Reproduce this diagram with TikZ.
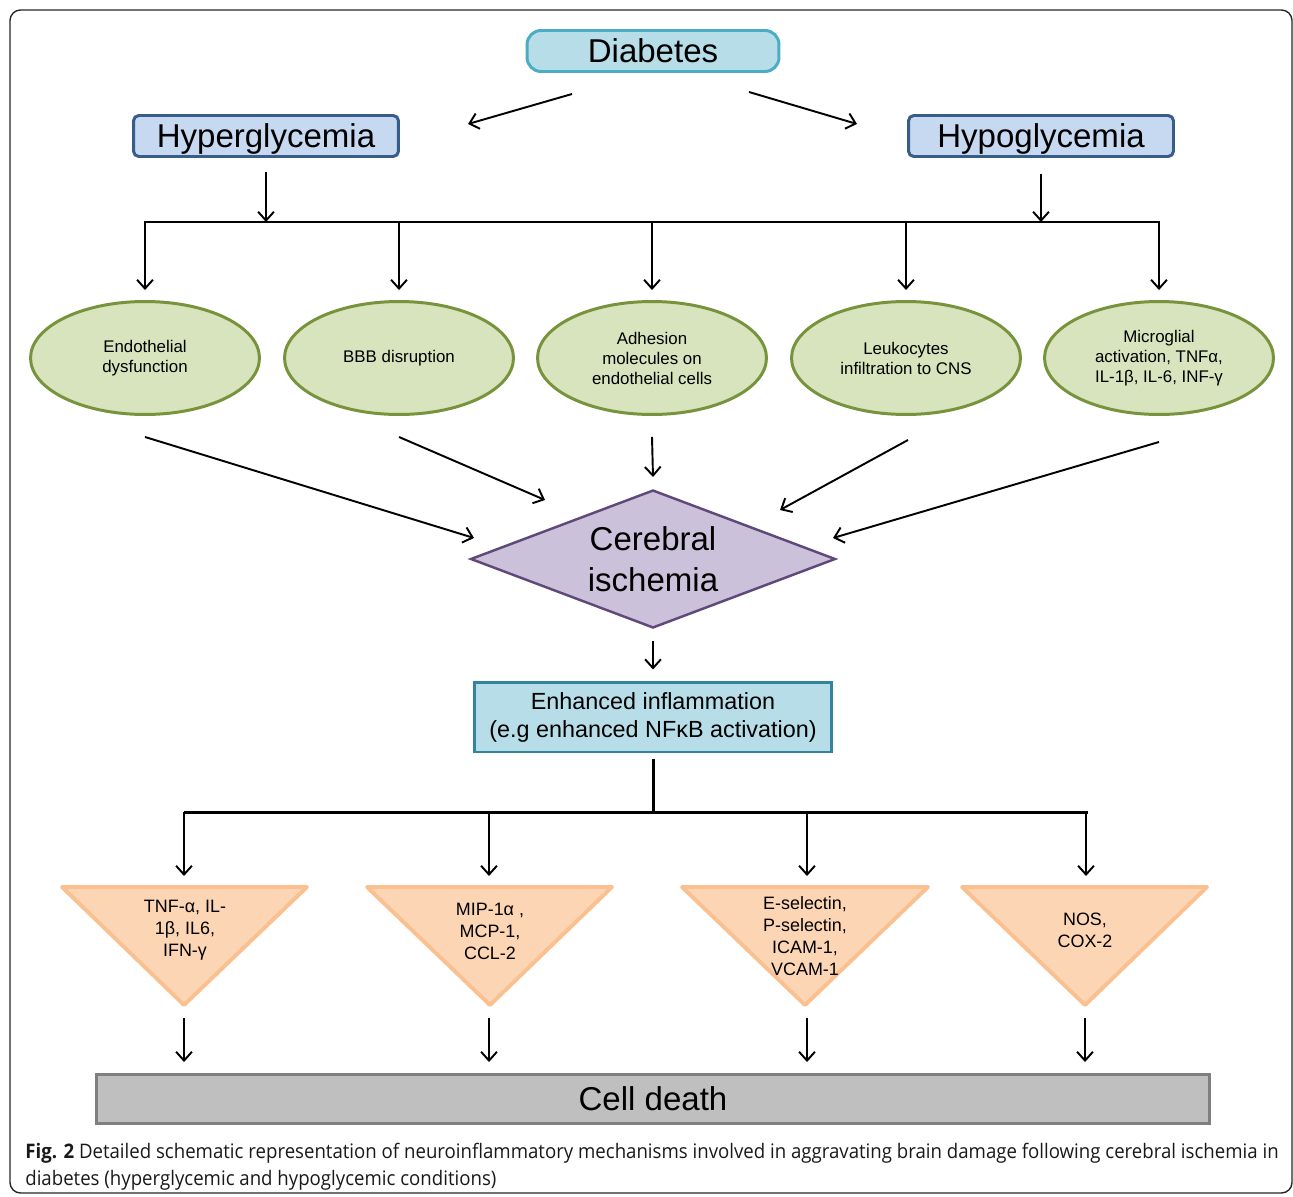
\documentclass[tikz,border=0pt]{standalone}
\usepackage{fontspec}
\setmainfont{Liberation Sans}
\newfontfamily\capfont[FakeStretch=0.93]{Open Sans}
\usetikzlibrary{shapes.geometric,arrows.meta}
\definecolor{diafill}{HTML}{B7DEE8}
\definecolor{diadraw}{HTML}{4BACC6}
\definecolor{glyfill}{HTML}{C6D9F1}
\definecolor{glydraw}{HTML}{385D8A}
\definecolor{ellfill}{HTML}{D7E4BD}
\definecolor{elldraw}{HTML}{77933C}
\definecolor{isfill}{HTML}{CCC1DA}
\definecolor{isdraw}{HTML}{5F497A}
\definecolor{infdraw}{HTML}{31859C}
\definecolor{trifill}{HTML}{FCD5B5}
\definecolor{tridraw}{HTML}{FAC090}
\definecolor{deathfill}{HTML}{BFBFBF}
\definecolor{deathdraw}{HTML}{7F7F7F}

\begin{document}
\begin{tikzpicture}[x=0.02cm, y=-0.02cm,
    >={Straight Barb[length=5pt,width=9pt]},
    link/.style={line width=1.1pt, ->},
    bar/.style={line width=1.7pt},
    big/.style={font=\fontsize{18.8}{23.3}\selectfont},
    capline/.style={big, text height=13.5pt, text depth=0pt},
    diabox/.style={capline, draw=diadraw, fill=diafill, line width=1.7pt, rounded corners=8pt,
      minimum width=5.04cm, minimum height=0.82cm, inner sep=0pt},
    glybox/.style={capline, draw=glydraw, fill=glyfill, line width=1.7pt, rounded corners=3pt,
      minimum width=5.3cm, minimum height=0.82cm, inner sep=0pt},
    cause/.style={ellipse, draw=elldraw, fill=ellfill, line width=1.7pt, align=center,
      minimum width=4.58cm, minimum height=2.26cm, inner sep=0pt,
      font=\fontsize{9.6}{11.4}\selectfont},
    tritext/.style={align=center, inner sep=0pt, font=\fontsize{10.2}{12.5}\selectfont},
    tri/.style={draw=tridraw, fill=trifill, line width=2.2pt, line join=round}]
  \useasboundingbox (0,0) rectangle (1293,1196);
  \draw[rounded corners=6pt, line width=0.8pt, draw=black!85] (10,10) rectangle (1292,1193);

  % top
  \node[diabox] (dia) at (653,51) {Diabetes};
  \node[glybox] (hyper) at (266,136) {Hyperglycemia};
  \node[glybox] (hypo) at (1041,136) {Hypoglycemia};
  \coordinate (dl) at (572,94);
  \coordinate (dle) at (468,124);
  \coordinate (dr) at (749,92);
  \coordinate (dre) at (857,124);
  \draw[link] (dl) -- (dle);
  \draw[link] (dr) -- (dre);

  % causes
  \coordinate (tbar) at (653,222);
  \draw[link] ([yshift=-0.28cm]hyper.south) -- (hyper.south |- tbar);
  \draw[link] ([yshift=-0.32cm]hypo.south) -- (hypo.south |- tbar);
  \draw[bar] (144,222) -- (1160,222);
  \node[cause] (e1) at (145,358) {Endothelial\\dysfunction};
  \node[cause] (e2) at (399,358) {BBB disruption};
  \node[cause] (e3) at (652,358) {Adhesion\\molecules on\\endothelial cells};
  \node[cause] (e4) at (906,358) {Leukocytes\\infiltration to CNS};
  \node[cause] (e5) at (1159,358) {Microglial\\activation, TNFα,\\IL-1β, IL-6, INF-γ};
  \foreach \i in {1,...,5}
    \draw[link] (e\i.north |- tbar) -- ([yshift=0.2cm]e\i.north);

  % ischemia
  \node[diamond, aspect=2.63, big, align=center, draw=isdraw, fill=isfill, line width=1.4pt,
    minimum width=7.3cm, minimum height=2.76cm, inner sep=0pt] (isch) at (653,559)
    {Cerebral\\ischemia};
  \coordinate (c1) at (474,538);
  \coordinate (c2) at (545,500);
  \coordinate (c3) at (653,477);
  \coordinate (c4) at (780,510);
  \coordinate (c5) at (833,538);
  \draw[link] ([yshift=-0.42cm]e1.south) -- (c1);
  \draw[link] ([yshift=-0.42cm]e2.south) -- (c2);
  \draw[link] ([yshift=-0.42cm]e3.south) -- (c3);
  \draw[link] ([xshift=0.04cm,yshift=-0.48cm]e4.south) -- (c4);
  \draw[link] ([yshift=-0.52cm]e5.south) -- (c5);

  % inflammation
  \node[draw=infdraw, fill=diafill, line width=1.7pt, align=center,
    minimum width=7.14cm, minimum height=1.4cm, inner sep=0pt,
    font=\fontsize{13.3}{15.9}\selectfont] (infl) at (653,717)
    {Enhanced inflammation\\(e.g enhanced NFκB activation)};
  \draw[link] ([yshift=-0.24cm]isch.south) -- ([yshift=0.22cm]infl.north);
  \coordinate (bbar) at (653,812);
  \draw[bar] ([yshift=-0.12cm]infl.south) -- (bbar);
  \draw[bar] (184,812) -- (1088,812);

  % mediators
  \draw[tri] (62,887) -- (307,887) -- (184,1005) -- cycle;
  \draw[tri] (367,887) -- (612,887) -- (490,1005) -- cycle;
  \draw[tri] (682,887) -- (928,887) -- (805,1005) -- cycle;
  \draw[tri] (962,887) -- (1207,887) -- (1085,1005) -- cycle;
  \node[tritext] (m1) at (185,930) {TNF-α, IL-\\1β, IL6,\\IFN-γ};
  \node[tritext] (m2) at (490,931) {MIP-1α ,\\MCP-1,\\CCL-2};
  \node[tritext] (m3) at (805,936) {E-selectin,\\P-selectin,\\ICAM-1,\\VCAM-1};
  \node[tritext] (m4) at (1085,930) {NOS,\\COX-2};
  \coordinate (t1) at (184,876);
  \coordinate (t2) at (489,876);
  \coordinate (t3) at (807,876);
  \coordinate (t4) at (1086,876);
  \foreach \i in {1,...,4}
    \draw[link] (t\i |- bbar) -- (t\i);

  % cell death
  \node[capline, draw=deathdraw, fill=deathfill, line width=1.7pt,
    minimum width=22.28cm, minimum height=0.98cm, inner sep=0pt] (death) at (653,1099) {Cell death};
  \coordinate (s1) at (184,1018);
  \coordinate (s2) at (489,1018);
  \coordinate (s3) at (807,1018);
  \coordinate (s4) at (1085,1018);
  \foreach \i in {1,...,4}
    \draw[link] (s\i) -- ([yshift=0.22cm]s\i |- death.north);

  % caption
  \node[anchor=west, align=left, inner sep=0pt, text=black!90,
    font=\capfont\fontsize{11.4}{15.4}\selectfont] (cap) at (25,1167)
    {\textbf{Fig. 2} Detailed schematic representation of neuroinflammatory mechanisms involved in aggravating brain damage following cerebral ischemia in\\
     diabetes (hyperglycemic and hypoglycemic conditions)};
\end{tikzpicture}
\end{document}
